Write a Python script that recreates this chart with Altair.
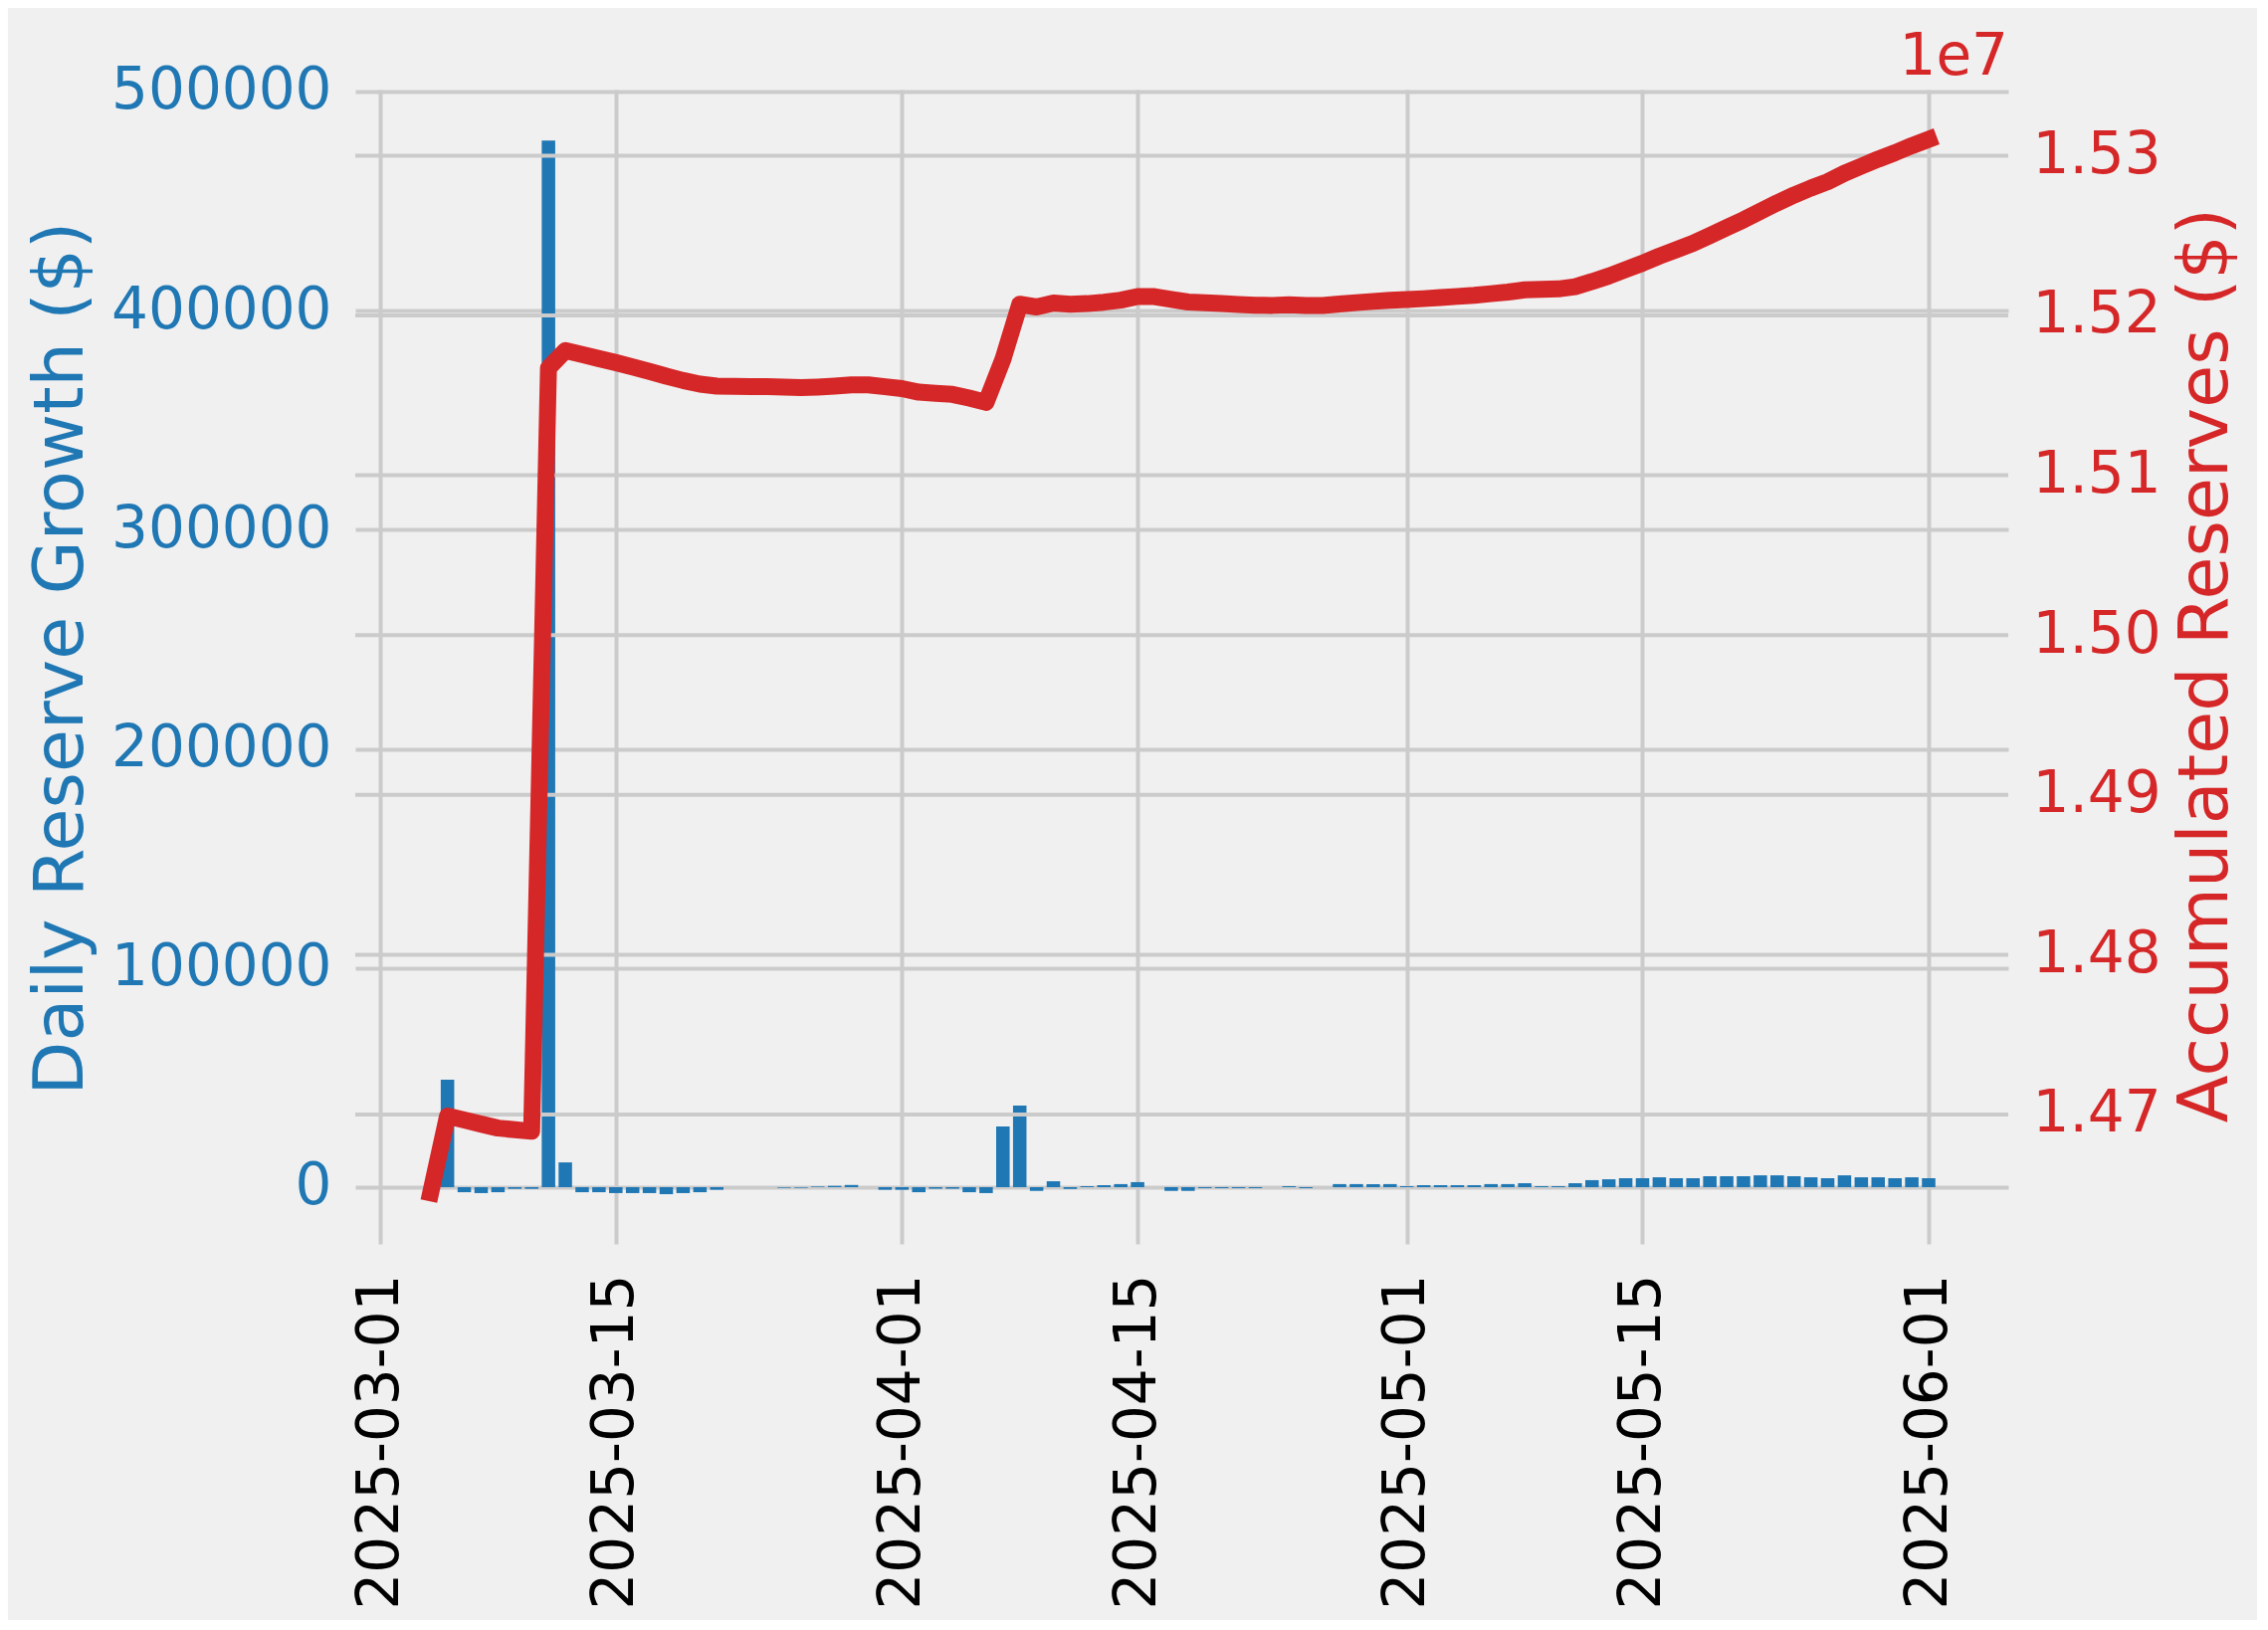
import altair as alt
import pandas as pd

BLUE = "#1f77b4"
RED = "#d62728"
GRID = "#cbcbcb"
FONT = "DejaVu Sans"

BAR_START = "2025-03-05"
LINE_START = "2025-03-04"
END = "2025-06-01"

# Daily reserve growth ($), one value per day from 2025-03-05 to 2025-06-01
daily_growth = [
    # March 5 - 31
    49000, -2300, -2700, -2300, -750, -750, 477500, 11300, -2300, -2300,
    -2700, -2700, -2700, -3200, -2700, -2300, -1200, 0, 0, 0,
    -300, -300, 300, 600, 1000, 0, -1200,
    # April 1 - 30
    -1200, -2300, -700, -700, -2300, -2700, 27700, 37200, -1700, 2700,
    -800, 450, 900, 1400, 2300, 0, -1700, -1700, -450, -450,
    -450, -450, 0, 450, -450, 0, 1400, 1400, 1400, 1400,
    # May 1 - 31
    450, 900, 900, 900, 900, 1400, 1400, 1800, 450, 450,
    1800, 3200, 3600, 4100, 4100, 4500, 4100, 4100, 5000, 5000,
    5000, 5400, 5400, 5000, 4500, 4100, 5400, 4500, 4500, 4100,
    4500,
    # June 1
    4100,
]

# Accumulated reserves ($), one value per day from 2025-03-04 to 2025-06-01
accumulated = [
    # March 4 - 31
    14651000, 14699000, 14696500, 14694000, 14691500, 14690500, 14689500,
    15167000, 15178000, 15175500, 15173000, 15170500, 15167800, 15165000,
    15162000, 15159300, 15157000, 15155800, 15155600, 15155500, 15155400,
    15155100, 15154800, 15155200, 15155800, 15156600, 15156600, 15155400,
    # April 1 - 30
    15154200, 15152000, 15151300, 15150600, 15148300, 15145600, 15172500,
    15207000, 15205300, 15207800, 15207000, 15207400, 15208300, 15209600,
    15211800, 15211800, 15210100, 15208400, 15207900, 15207400, 15206900,
    15206400, 15206300, 15206700, 15206200, 15206200, 15207200, 15208000,
    15208800, 15209500,
    # May 1 - 31
    15209900, 15210500, 15211200, 15211900, 15212600, 15213600, 15214600,
    15216000, 15216300, 15216600, 15218000, 15221200, 15224700, 15228700,
    15232700, 15237100, 15241100, 15245100, 15250000, 15254900, 15259800,
    15265100, 15270400, 15275300, 15279700, 15283700, 15289000, 15293400,
    15297800, 15301800, 15306200,
    # June 1
    15310200,
]

x_tick_dates = [(2025, 3, 1), (2025, 3, 15), (2025, 4, 1), (2025, 4, 15),
                (2025, 5, 1), (2025, 5, 15), (2025, 6, 1)]
left_ticks = [0, 100000, 200000, 300000, 400000, 500000]
right_ticks = [14700000, 14800000, 14900000, 15000000, 15100000, 15200000, 15300000]
offset_label = ["1e7"]

left_domain = [-25880, 500795]
right_domain = [14619040, 15341345]

fmt = "%Y-%m-%dT%H:%M:%SZ"
bar_days = pd.date_range(BAR_START, END, freq="D", tz="UTC")
half = pd.Timedelta(hours=9.6)  # bar width 0.8 day
bars_df = pd.DataFrame({
    "start": (bar_days - half).strftime(fmt),
    "end": (bar_days + half).strftime(fmt),
    "growth": daily_growth,
})
line_df = pd.DataFrame({
    "date": pd.date_range(LINE_START, END, freq="D", tz="UTC").strftime(fmt),
    "reserves": accumulated,
})
grid_df = pd.DataFrame({"v": right_ticks})
label_df = pd.DataFrame({"label": offset_label})

XSCALE = alt.Scale(
    type="utc",
    domain=[alt.DateTime(year=2025, month=2, date=27, hours=12, minutes=31, utc=True),
            alt.DateTime(year=2025, month=6, date=5, hours=17, minutes=31, utc=True)],
)
XAXIS = alt.Axis(
    values=[alt.DateTime(year=y, month=m, date=d, utc=True) for (y, m, d) in x_tick_dates],
    format="%Y-%m-%d", title=None, grid=True, gridColor=GRID, gridWidth=4,
    domain=False, ticks=False, labelAngle=270, labelAlign="right",
    labelBaseline="middle", labelPadding=30, labelFontSize=58, labelColor="#000000",
    labelFlush=False, labelOverlap=False, labelLimit=0,
)

LAXIS = alt.Axis(values=left_ticks, format="d",
                 title="Daily Reserve Growth ($)", titleColor=BLUE,
                 labelColor=BLUE, labelFontSize=58, titleFontSize=70,
                 grid=True, gridColor=GRID, gridWidth=4, domain=False,
                 ticks=False, labelPadding=24, titleAngle=270,
                 titleAlign="center", titleBaseline="alphabetic",
                 titleX=-275, titleY=571, labelFlush=False,
                 labelOverlap=False, labelLimit=0, titleLimit=0)

RAXIS = alt.Axis(orient="right", values=right_ticks,
                 labelExpr="format(datum.value / 10000000, '.2f')",
                 grid=False, domain=False, ticks=False,
                 labelColor=RED, labelFontSize=58, labelPadding=24,
                 title="Accumulated Reserves ($)", titleColor=RED,
                 titleFontSize=70, titleAngle=270, titleAlign="center",
                 titleBaseline="alphabetic", titleX=219, titleY=578,
                 labelFlush=False, labelOverlap=False, labelLimit=0,
                 titleLimit=0)

bars = alt.Chart(bars_df).mark_bar(color=BLUE).encode(
    x=alt.X("start:T", scale=XSCALE, axis=XAXIS),
    x2="end:T",
    y=alt.Y("growth:Q",
            scale=alt.Scale(domain=left_domain, nice=False, zero=False),
            axis=LAXIS),
    y2=alt.datum(0),
)

RSCALE = alt.Scale(domain=right_domain, nice=False, zero=False)

rules = alt.Chart(grid_df).mark_rule(color=GRID, strokeWidth=4).encode(
    y=alt.Y("v:Q", scale=RSCALE, axis=RAXIS),
)

line = alt.Chart(line_df).mark_line(
    color=RED, strokeWidth=17, strokeCap="square", strokeJoin="round"
).encode(
    x=alt.X("date:T", scale=XSCALE, axis=XAXIS),
    y=alt.Y("reserves:Q", scale=RSCALE, axis=RAXIS),
)

offset_text = alt.Chart(label_df).mark_text(
    align="right", baseline="alphabetic", fontSize=58, color=RED, font=FONT
).encode(
    x=alt.value(1661), y=alt.value(-15), text="label:N",
)

chart = alt.layer(
    bars, alt.layer(rules, line), offset_text
).resolve_scale(y="independent").properties(
    width=1661, height=1160, background="#f0f0f0",
    autosize=alt.AutoSizeParams(type="none"),
    padding={"left": 349, "top": 82, "right": 250, "bottom": 378},
).configure_view(stroke=None).configure_axis(
    labelFont=FONT, titleFont=FONT, titleFontWeight="normal"
)

chart.save("out.html", embed_options={"renderer": "svg", "actions": False})
